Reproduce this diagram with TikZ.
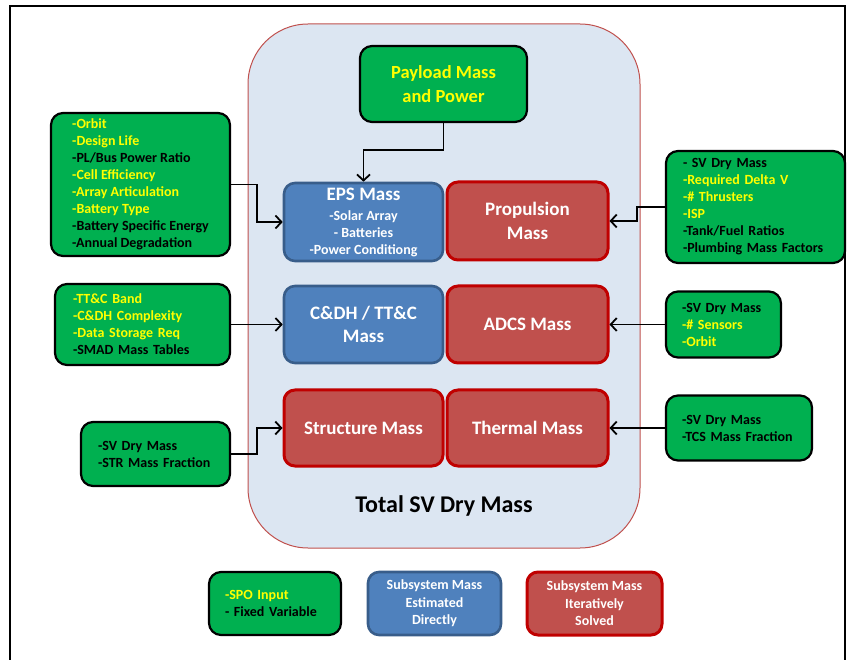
\documentclass[tikz,border=0pt]{standalone}
\usepackage{fontspec}
\setmainfont{Carlito}
\usetikzlibrary{arrows.meta}
\definecolor{gfill}{HTML}{00B050}
\definecolor{ytext}{HTML}{FFFF00}
\definecolor{bfill}{HTML}{4F81BD}
\definecolor{bborder}{HTML}{385D8A}
\definecolor{rfill}{HTML}{C0504D}
\definecolor{rborder}{HTML}{C00000}
\definecolor{cfill}{HTML}{DCE6F2}
\definecolor{cborder}{HTML}{C0504D}
\newcommand{\yl}[1]{\textcolor{ytext}{#1}}
\begin{document}
\begin{tikzpicture}[x=1pt,y=-1pt,
  gbox/.style={draw=black, line width=2.2pt, fill=gfill, rounded corners=12pt, inner ysep=0pt, align=left, font=\bfseries\fontsize{14}{17}\selectfont},
  bbox/.style={draw=bborder, line width=2.6pt, fill=bfill, rounded corners=11pt, text=white, align=center, inner sep=0pt, font=\bfseries\fontsize{19}{23.5}\selectfont},
  rbox/.style={draw=rborder, line width=3pt, fill=rfill, rounded corners=11pt, text=white, align=center, inner sep=0pt, font=\bfseries\fontsize{19}{23.5}\selectfont},
  arr/.style={line width=1.8pt, -{Straight Barb[length=6pt,width=13pt]}}
]
\useasboundingbox (0,0) rectangle (852,660);
% frame
\draw[line width=1.5pt] (10,660) -- (10,6) -- (845,6) -- (845,660);
% container
\draw[cborder, fill=cfill, line width=1pt, rounded corners=60pt] (248,24) rectangle (640,548);
\node[font=\bfseries\fontsize{24}{26}\selectfont] (total) at (444,506) {Total SV Dry Mass};
% payload
\node[gbox, align=center, inner sep=0pt, minimum width=167pt, minimum height=76pt, text=ytext, font=\bfseries\fontsize{18.5}{24}\selectfont] (payload) at (443.5,84) {Payload Mass\\and Power};
% subsystem boxes
\node[bbox, minimum width=159pt, minimum height=78pt, font=\bfseries\fontsize{14}{17}\selectfont] (eps) at (363.5,222) {{\fontsize{19}{19}\selectfont EPS Mass}\\[3pt]-Solar Array\\- Batteries\\-Power Conditiong};
\node[rbox, minimum width=161pt, minimum height=78pt] (prop) at (527.5,221) {Propulsion\\Mass};
\node[bbox, minimum width=159pt, minimum height=77pt] (cdh) at (363.5,324.5) {C\&DH / TT\&C\\Mass};
\node[rbox, minimum width=161pt, minimum height=77pt] (adcs) at (527.5,324.5) {ADCS Mass};
\node[rbox, minimum width=159pt, minimum height=76pt] (str) at (363.5,428) {Structure Mass};
\node[rbox, minimum width=161pt, minimum height=76pt] (thm) at (527.5,428) {Thermal Mass};
% inputs
\node[gbox, minimum height=143pt, minimum width=179pt, inner xsep=0pt] (in1) at (140.5,184.5)
  {\yl{-Orbit}\\\yl{-Design Life}\\-PL/Bus Power Ratio\\\yl{-Cell Efficiency}\\\yl{-Array Articulation}\\\yl{-Battery Type}\\-Battery Specific Energy\\-Annual Degradation};
\node[gbox, minimum height=112pt, inner xsep=17pt, text width=145pt] (in2) at (755.5,207)
  {- SV Dry Mass\\\yl{-Required Delta V}\\\yl{-\# Thrusters}\\\yl{-ISP}\\-Tank/Fuel Ratios\\-Plumbing Mass Factors};
\node[gbox, minimum height=81pt, inner xsep=18pt, text width=139pt] (in3) at (142.5,324.5)
  {\yl{-TT\&C Band}\\\yl{-C\&DH Complexity}\\\yl{-Data Storage Req}\\-SMAD Mass Tables};
\node[gbox, minimum height=66pt, inner xsep=16pt, text width=83pt] (in4) at (723.5,324.5)
  {-SV Dry Mass\\\yl{-\# Sensors}\\\yl{-Orbit}};
\node[gbox, minimum height=64pt, inner xsep=17pt, text width=115pt] (in5) at (155.5,454)
  {-SV Dry Mass\\-STR Mass Fraction};
\node[gbox, minimum height=65pt, inner xsep=16pt, text width=114pt] (in6) at (739,428)
  {-SV Dry Mass\\-TCS Mass Fraction};
% legend
\node[gbox, minimum height=63pt, inner xsep=16pt, text width=100pt] (lg1) at (275,603.5)
  {\yl{-SPO Input}\\- Fixed Variable};
\node[bbox, minimum width=133pt, minimum height=63pt, font=\bfseries\fontsize{14}{17.5}\selectfont] (lg2) at (434.5,603.5) {Subsystem Mass\\Estimated\\Directly};
\node[rbox, minimum width=135pt, minimum height=63pt, font=\bfseries\fontsize{14}{17.5}\selectfont] (lg3) at (594.5,603.5) {Subsystem Mass\\Iteratively\\Solved};
% connectors
\draw[arr] (payload.south) -- (payload.south |- 0,150) -| (eps.north);
\draw[arr] (in1.east) -- (in1.east -| 257,0) |- (eps.west);
\draw[arr] (in2.west) -- (in2.west -| 637,0) |- (prop.east);
\draw[arr] (in3.east) -- (cdh.west);
\draw[arr] (in4.west) -- (adcs.east);
\draw[arr] (in5.east) -- (in5.east -| 257,0) |- (str.west);
\draw[arr] (in6.west) -- (thm.east);
\end{tikzpicture}
\end{document}
